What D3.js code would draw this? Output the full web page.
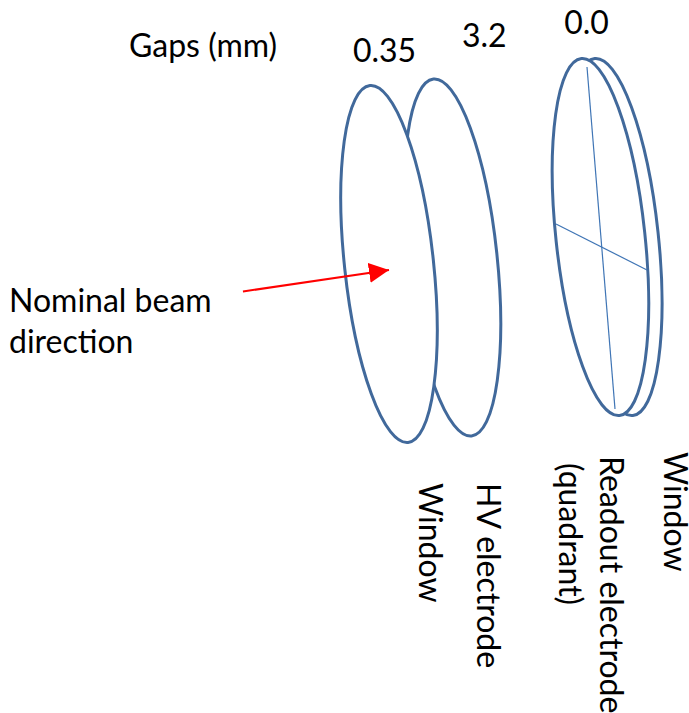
<!DOCTYPE html>
<html>
<head>
<meta charset="utf-8">
<script src="https://d3js.org/d3.v7.min.js"></script>
<style>
html, body { margin: 0; padding: 0; background: #fff; }
svg { display: block; }
text { font-family: Lato, "Open Sans", sans-serif; font-size: 32px; fill: #000; }
</style>
</head>
<body>
<div id="diagram"></div>
<script>
// discs, front to back, in schematic units along the beam
var discNames = ['Window', 'HV electrode', 'Readout electrode', 'Window'];
var discDepth = [0, 1, 3.33, 3.54];
var discRise = [0, 1, 4.15, 4.15];

var gapLabels = ['0.35', '3.2', '0.0'];
var gapDepth = [-0.07, 1.5, 3.11];
var gapRise = [0.31, 2.6, 4.65];

// quadrant lines on the readout electrode
var quadrantDepth = [[3.118, 3.559], [2.63, 4.063]];
var quadrantRise = [[30.3, -22.3], [6.15, -0.92]];

// beam arrow, tail then tip
var beamDepth = [-2.3, 0];
var beamRise = [-4.23, -0.92];

var width = 689;
var height = 713;

var x = d3.scaleLinear().domain([0, 1]).range([389, 452.5]);
var y = d3.scaleLinear().domain([0, 1]).range([264, 257.5]);

var svg = d3.select('#diagram').append('svg')
    .attr('width', width)
    .attr('height', height);

// back disc first so the front ones cover it
var discs = d3.range(discDepth.length).reverse();

svg.selectAll('ellipse')
    .data(discs)
    .enter()
    .append('ellipse')
    .attr('cx', 0)
    .attr('cy', 0)
    .attr('rx', 44.5)
    .attr('ry', 179.5)
    .attr('transform', function(d) {
        return 'translate(' + x(discDepth[d]) + ',' + y(discRise[d]) + ') rotate(-6.1)';
    })
    .style('fill', 'white')
    .style('stroke', '#41699b')
    .style('stroke-width', 3);

svg.selectAll('line.quadrant')
    .data(d3.range(quadrantDepth.length))
    .enter()
    .append('line')
    .attr('class', 'quadrant')
    .attr('x1', function(d) { return x(quadrantDepth[d][0]); })
    .attr('y1', function(d) { return y(quadrantRise[d][0]); })
    .attr('x2', function(d) { return x(quadrantDepth[d][1]); })
    .attr('y2', function(d) { return y(quadrantRise[d][1]); })
    .style('stroke', '#3f75b5')
    .style('stroke-width', 1.2);

// beam arrow
svg.append('defs').append('marker')
    .attr('id', 'head')
    .attr('markerUnits', 'userSpaceOnUse')
    .attr('viewBox', '0 0 20 20')
    .attr('refX', 20)
    .attr('refY', 10)
    .attr('markerWidth', 20)
    .attr('markerHeight', 20)
    .attr('orient', 'auto')
    .append('path')
    .attr('d', 'M0,0L20,10L0,20Z')
    .style('fill', '#ff0000');

svg.append('line')
    .attr('x1', x(beamDepth[0])).attr('y1', y(beamRise[0]))
    .attr('x2', x(beamDepth[1])).attr('y2', y(beamRise[1]))
    .attr('marker-end', 'url(#head)')
    .style('stroke', '#ff0000')
    .style('stroke-width', 2);

// labels
svg.append('text').attr('x', 129).attr('y', 57).text('Gaps (mm)');
svg.append('text').attr('x', 9).attr('y', 312).text('Nominal beam');
svg.append('text').attr('x', 9).attr('y', 353).text('direction');

svg.selectAll('text.gap')
    .data(gapLabels)
    .enter()
    .append('text')
    .attr('class', 'gap')
    .attr('text-anchor', 'middle')
    .attr('x', function(d, i) { return x(gapDepth[i]); })
    .attr('y', function(d, i) { return y(gapRise[i]) - 200; })
    .text(function(d) { return d; });

var verticalLabels = [
    { lbl: discNames[0], x: 419, y: 483 },
    { lbl: discNames[1], x: 477, y: 483 },
    { lbl: '(quadrant)', x: 559, y: 463 },
    { lbl: discNames[2], x: 600, y: 456 },
    { lbl: discNames[3], x: 664, y: 452 }
];

svg.selectAll('text.vert')
    .data(verticalLabels)
    .enter()
    .append('text')
    .attr('class', 'vert')
    .attr('transform', function(d) { return 'translate(' + d.x + ',' + d.y + ') rotate(90)'; })
    .text(function(d) { return d.lbl; });
</script>
</body>
</html>
